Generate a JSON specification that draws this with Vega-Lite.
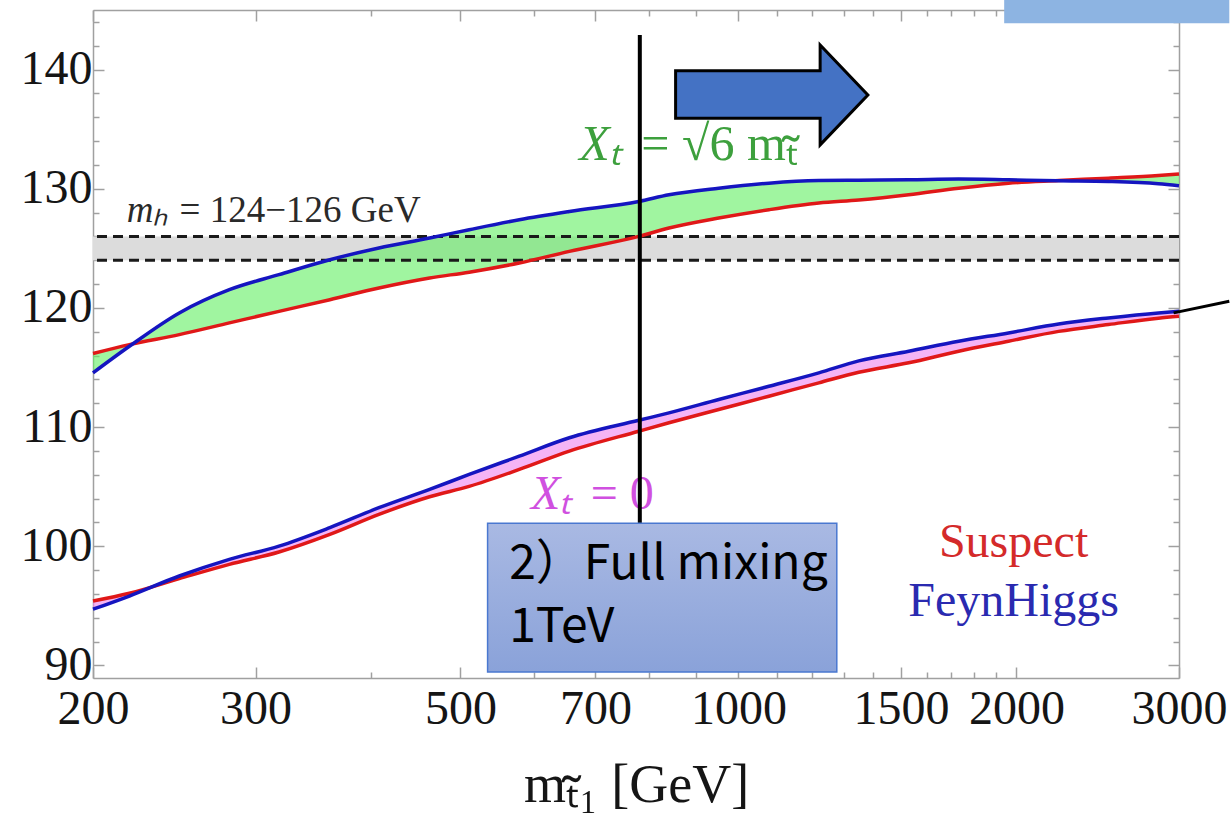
{
  "$schema": "https://vega.github.io/schema/vega-lite/v6.json",
  "width": 1086,
  "height": 668,
  "autosize": {"type": "none"},
  "padding": {"left": 93, "top": 10, "right": 52, "bottom": 137},
  "background": "white",
  "config": {"view": {"stroke": null}},
  "datasets": {
    "curves": [
      {"m": 200, "sus6": 116.17, "fh6": 114.55, "sus0": 95.40, "fh0": 94.71},
      {"m": 219, "sus6": 116.92, "fh6": 116.78, "sus0": 96.05, "fh0": 95.82},
      {"m": 248, "sus6": 117.76, "fh6": 119.58, "sus0": 97.28, "fh0": 97.50},
      {"m": 281, "sus6": 118.74, "fh6": 121.53, "sus0": 98.48, "fh0": 98.90},
      {"m": 318, "sus6": 119.71, "fh6": 122.79, "sus0": 99.51, "fh0": 100.01},
      {"m": 361, "sus6": 120.69, "fh6": 124.04, "sus0": 100.99, "fh0": 101.56},
      {"m": 408, "sus6": 121.67, "fh6": 125.03, "sus0": 102.67, "fh0": 103.23},
      {"m": 463, "sus6": 122.51, "fh6": 125.86, "sus0": 104.15, "fh0": 104.77},
      {"m": 511, "sus6": 123.00, "fh6": 126.56, "sus0": 105.02, "fh0": 106.02},
      {"m": 579, "sus6": 123.77, "fh6": 127.40, "sus0": 106.44, "fh0": 107.56},
      {"m": 656, "sus6": 124.74, "fh6": 128.09, "sus0": 107.98, "fh0": 109.10},
      {"m": 780, "sus6": 126.00, "fh6": 128.93, "sus0": 109.65, "fh0": 110.57},
      {"m": 841, "sus6": 126.70, "fh6": 129.49, "sus0": 110.36, "fh0": 111.19},
      {"m": 952, "sus6": 127.54, "fh6": 130.05, "sus0": 111.47, "fh0": 112.31},
      {"m": 1079, "sus6": 128.24, "fh6": 130.47, "sus0": 112.59, "fh0": 113.42},
      {"m": 1222, "sus6": 128.80, "fh6": 130.69, "sus0": 113.71, "fh0": 114.55},
      {"m": 1350, "sus6": 129.05, "fh6": 130.72, "sus0": 114.60, "fh0": 115.55},
      {"m": 1529, "sus6": 129.49, "fh6": 130.75, "sus0": 115.39, "fh0": 116.36},
      {"m": 1732, "sus6": 130.05, "fh6": 130.81, "sus0": 116.36, "fh0": 117.20},
      {"m": 1961, "sus6": 130.47, "fh6": 130.75, "sus0": 117.20, "fh0": 117.90},
      {"m": 2222, "sus6": 130.69, "fh6": 130.67, "sus0": 118.03, "fh0": 118.65},
      {"m": 2516, "sus6": 130.89, "fh6": 130.61, "sus0": 118.60, "fh0": 119.16},
      {"m": 2850, "sus6": 131.11, "fh6": 130.42, "sus0": 119.14, "fh0": 119.58},
      {"m": 3000, "sus6": 131.23, "fh6": 130.25, "sus0": 119.29, "fh0": 119.71}
    ],
    "band": [{"x0": 200, "x1": 3000, "lo": 124, "hi": 126}],
    "hlines": [{"y": 124}, {"y": 126}],
    "vline": [{"m": 782, "top": 142.9, "bottom": 101.92}],
    "arrow": [
      {"i": 0, "m": 855, "v": 139.91},
      {"i": 1, "m": 1226, "v": 139.91},
      {"i": 2, "m": 1226, "v": 142.07},
      {"i": 3, "m": 1381, "v": 137.87},
      {"i": 4, "m": 1226, "v": 133.68},
      {"i": 5, "m": 1226, "v": 135.92},
      {"i": 6, "m": 855, "v": 135.92}
    ],
    "box": [{"x0": 535, "x1": 1278, "y0": 89.45, "y1": 101.92}],
    "boxtext": [
      {"m": 564.6, "v": 97.22, "t": "2）Full mixing"},
      {"m": 564.6, "v": 91.94, "t": "1TeV"}
    ],
    "corner": [{"x0": 1940, "x1": 3401, "y0": 143.89, "y1": 145.84}],
    "callout": [{"m": 2960, "v": 119.58}, {"m": 3401, "v": 120.55}]
  },
  "layer": [
    {
      "data": {"name": "band"},
      "mark": {"type": "rect", "fill": "#DCDCDC"},
      "encoding": {
        "x": {"field": "x0", "type": "quantitative",
          "scale": {"type": "log", "domain": [200, 3000], "nice": false},
          "axis": {"orient": "top", "labels": false, "title": null, "grid": false,
            "values": [200,300,400,500,600,700,800,900,1000,1100,1200,1300,1400,1500,1600,1700,1800,1900,2000,3000],
            "tickSize": {"condition": {"test": "indexof([200,300,500,700,1000,1500,2000,3000], datum.value) >= 0", "value": -11}, "value": -6},
            "tickColor": "#A0A0A0", "domainColor": "#A0A0A0", "tickWidth": 1.5, "domainWidth": 1.5}},
        "x2": {"field": "x1"},
        "y": {"field": "lo", "type": "quantitative",
          "scale": {"domain": [88.94, 145], "nice": false, "zero": false},
          "axis": {"orient": "right", "labels": false, "title": null, "grid": false,
            "values": [90,92,94,96,98,100,102,104,106,108,110,112,114,116,118,120,122,124,126,128,130,132,134,136,138,140,142,144],
            "tickSize": {"condition": {"test": "datum.value % 10 === 0", "value": -11}, "value": -6},
            "tickColor": "#A0A0A0", "domainColor": "#A0A0A0", "tickWidth": 1.5, "domainWidth": 1.5}},
        "y2": {"field": "hi"}
      }
    },
    {
      "data": {"name": "curves"},
      "mark": {"type": "area", "fill": "#61EE61", "opacity": 0.6, "interpolate": "monotone"},
      "encoding": {
        "x": {"field": "m", "type": "quantitative",
          "axis": {"orient": "bottom", "grid": false,
            "values": [200,300,400,500,600,700,800,900,1000,1100,1200,1300,1400,1500,1600,1700,1800,1900,2000,3000],
            "labelExpr": "indexof([200,300,500,700,1000,1500,2000,3000], datum.value) >= 0 ? datum.value : ''",
            "tickSize": {"condition": {"test": "indexof([200,300,500,700,1000,1500,2000,3000], datum.value) >= 0", "value": -11}, "value": -6},
            "tickColor": "#A0A0A0", "domainColor": "#A0A0A0", "tickWidth": 1.5, "domainWidth": 1.5,
            "labelFont": "Liberation Serif", "labelFontSize": 48, "labelColor": "#151515",
            "labelPadding": 18, "labelFlush": false, "labelOverlap": false,
            "title": "mₜ̃₁  [GeV]", "titleFont": "Liberation Serif", "titleFontSize": 54,
            "titleFontWeight": "normal", "titleColor": "#151515", "titlePadding": 20}},
        "y": {"field": "sus6", "type": "quantitative",
          "axis": {"orient": "left", "grid": false, "title": null,
            "values": [90,92,94,96,98,100,102,104,106,108,110,112,114,116,118,120,122,124,126,128,130,132,134,136,138,140,142,144],
            "labelExpr": "datum.value % 10 === 0 ? datum.value : ''",
            "tickSize": {"condition": {"test": "datum.value % 10 === 0", "value": -11}, "value": -6},
            "tickColor": "#A0A0A0", "domainColor": "#A0A0A0", "tickWidth": 1.5, "domainWidth": 1.5,
            "labelFont": "Liberation Serif", "labelFontSize": 48, "labelColor": "#151515",
            "labelPadding": 12, "labelFlush": false, "labelOverlap": false}},
        "y2": {"field": "fh6"}
      }
    },
    {
      "data": {"name": "curves"},
      "mark": {"type": "area", "fill": "#EE82EE", "opacity": 0.6, "interpolate": "monotone"},
      "encoding": {
        "x": {"field": "m", "type": "quantitative", "axis": null},
        "y": {"field": "sus0", "type": "quantitative", "axis": null},
        "y2": {"field": "fh0"}
      }
    },
    {
      "data": {"name": "hlines"},
      "mark": {"type": "rule", "color": "#1a1a1a", "strokeWidth": 3, "strokeDash": [10, 6]},
      "encoding": {"y": {"field": "y", "type": "quantitative", "axis": null}}
    },
    {
      "data": {"name": "curves"},
      "mark": {"type": "line", "color": "#E01818", "strokeWidth": 3.5, "interpolate": "monotone"},
      "encoding": {"x": {"field": "m", "type": "quantitative", "axis": null}, "y": {"field": "sus6", "type": "quantitative", "axis": null}}
    },
    {
      "data": {"name": "curves"},
      "mark": {"type": "line", "color": "#E01818", "strokeWidth": 3.5, "interpolate": "monotone"},
      "encoding": {"x": {"field": "m", "type": "quantitative", "axis": null}, "y": {"field": "sus0", "type": "quantitative", "axis": null}}
    },
    {
      "data": {"name": "curves"},
      "mark": {"type": "line", "color": "#1515C0", "strokeWidth": 3.5, "interpolate": "monotone"},
      "encoding": {"x": {"field": "m", "type": "quantitative", "axis": null}, "y": {"field": "fh6", "type": "quantitative", "axis": null}}
    },
    {
      "data": {"name": "curves"},
      "mark": {"type": "line", "color": "#1515C0", "strokeWidth": 3.5, "interpolate": "monotone"},
      "encoding": {"x": {"field": "m", "type": "quantitative", "axis": null}, "y": {"field": "fh0", "type": "quantitative", "axis": null}}
    },
    {
      "data": {"values": [{"m": 217.5, "v": 127.25, "t": "mₕ"}]},
      "mark": {"type": "text", "align": "left", "baseline": "alphabetic", "font": "Liberation Serif", "fontStyle": "italic", "fontSize": 37, "color": "#2a2a2a"},
      "encoding": {"x": {"field": "m", "type": "quantitative", "axis": null}, "y": {"field": "v", "type": "quantitative", "axis": null}, "text": {"field": "t"}}
    },
    {
      "data": {"values": [{"m": 248.2, "v": 127.25, "t": "= 124−126 GeV"}]},
      "mark": {"type": "text", "align": "left", "baseline": "alphabetic", "font": "Liberation Serif", "fontSize": 37, "color": "#2a2a2a"},
      "encoding": {"x": {"field": "m", "type": "quantitative", "axis": null}, "y": {"field": "v", "type": "quantitative", "axis": null}, "text": {"field": "t"}}
    },
    {
      "data": {"values": [{"m": 672.2, "v": 132.43, "t": "Xₜ"}]},
      "mark": {"type": "text", "align": "left", "baseline": "alphabetic", "font": "Liberation Serif", "fontStyle": "italic", "fontSize": 50, "color": "#3DA03D"},
      "encoding": {"x": {"field": "m", "type": "quantitative", "axis": null}, "y": {"field": "v", "type": "quantitative", "axis": null}, "text": {"field": "t"}}
    },
    {
      "data": {"values": [{"m": 784.8, "v": 132.43, "t": "= √6 mₜ̃"}]},
      "mark": {"type": "text", "align": "left", "baseline": "alphabetic", "font": "Liberation Serif", "fontSize": 50, "color": "#3DA03D"},
      "encoding": {"x": {"field": "m", "type": "quantitative", "axis": null}, "y": {"field": "v", "type": "quantitative", "axis": null}, "text": {"field": "t"}}
    },
    {
      "data": {"values": [{"m": 596, "v": 103.09, "t": "Xₜ"}]},
      "mark": {"type": "text", "align": "left", "baseline": "alphabetic", "font": "Liberation Serif", "fontStyle": "italic", "fontSize": 48, "color": "#D050E0"},
      "encoding": {"x": {"field": "m", "type": "quantitative", "axis": null}, "y": {"field": "v", "type": "quantitative", "axis": null}, "text": {"field": "t"}}
    },
    {
      "data": {"values": [{"m": 692, "v": 103.09, "t": "= 0"}]},
      "mark": {"type": "text", "align": "left", "baseline": "alphabetic", "font": "Liberation Serif", "fontSize": 48, "color": "#D050E0"},
      "encoding": {"x": {"field": "m", "type": "quantitative", "axis": null}, "y": {"field": "v", "type": "quantitative", "axis": null}, "text": {"field": "t"}}
    },
    {
      "data": {"values": [{"m": 1986, "v": 99.07, "t": "Suspect"}]},
      "mark": {"type": "text", "align": "center", "baseline": "alphabetic", "font": "Liberation Serif", "fontSize": 48, "color": "#D42A2A"},
      "encoding": {"x": {"field": "m", "type": "quantitative", "axis": null}, "y": {"field": "v", "type": "quantitative", "axis": null}, "text": {"field": "t"}}
    },
    {
      "data": {"values": [{"m": 1986, "v": 94.14, "t": "FeynHiggs"}]},
      "mark": {"type": "text", "align": "center", "baseline": "alphabetic", "font": "Liberation Serif", "fontSize": 48, "color": "#2A2AB0"},
      "encoding": {"x": {"field": "m", "type": "quantitative", "axis": null}, "y": {"field": "v", "type": "quantitative", "axis": null}, "text": {"field": "t"}}
    },
    {
      "data": {"name": "vline"},
      "mark": {"type": "rule", "color": "#000000", "strokeWidth": 4},
      "encoding": {"x": {"field": "m", "type": "quantitative", "axis": null}, "y": {"field": "top", "type": "quantitative", "axis": null}, "y2": {"field": "bottom"}}
    },
    {
      "data": {"name": "arrow"},
      "mark": {"type": "line", "interpolate": "linear-closed", "fill": "#4472C4", "stroke": "#000000", "strokeWidth": 3, "strokeJoin": "miter"},
      "encoding": {"x": {"field": "m", "type": "quantitative", "axis": null}, "y": {"field": "v", "type": "quantitative", "axis": null}, "order": {"field": "i", "type": "quantitative"}}
    },
    {
      "data": {"name": "box"},
      "mark": {"type": "rect", "stroke": "#4A78D0", "strokeWidth": 1.5,
        "fill": {"gradient": "linear", "x1": 0, "y1": 0, "x2": 0, "y2": 1,
          "stops": [{"offset": 0, "color": "#A9B9E3"}, {"offset": 1, "color": "#8AA2D9"}]}},
      "encoding": {"x": {"field": "x0", "type": "quantitative", "axis": null}, "x2": {"field": "x1"}, "y": {"field": "y0", "type": "quantitative", "axis": null}, "y2": {"field": "y1"}}
    },
    {
      "data": {"name": "boxtext"},
      "mark": {"type": "text", "align": "left", "baseline": "alphabetic", "font": "Noto Sans CJK JP", "fontSize": 48, "color": "#000000"},
      "encoding": {"x": {"field": "m", "type": "quantitative", "axis": null}, "y": {"field": "v", "type": "quantitative", "axis": null}, "text": {"field": "t"}}
    },
    {
      "data": {"name": "corner"},
      "mark": {"type": "rect", "fill": "#8DB4E2"},
      "encoding": {"x": {"field": "x0", "type": "quantitative", "axis": null}, "x2": {"field": "x1"}, "y": {"field": "y0", "type": "quantitative", "axis": null}, "y2": {"field": "y1"}}
    },
    {
      "data": {"name": "callout"},
      "mark": {"type": "line", "color": "#000000", "strokeWidth": 3},
      "encoding": {"x": {"field": "m", "type": "quantitative", "axis": null}, "y": {"field": "v", "type": "quantitative", "axis": null}}
    }
  ]
}
